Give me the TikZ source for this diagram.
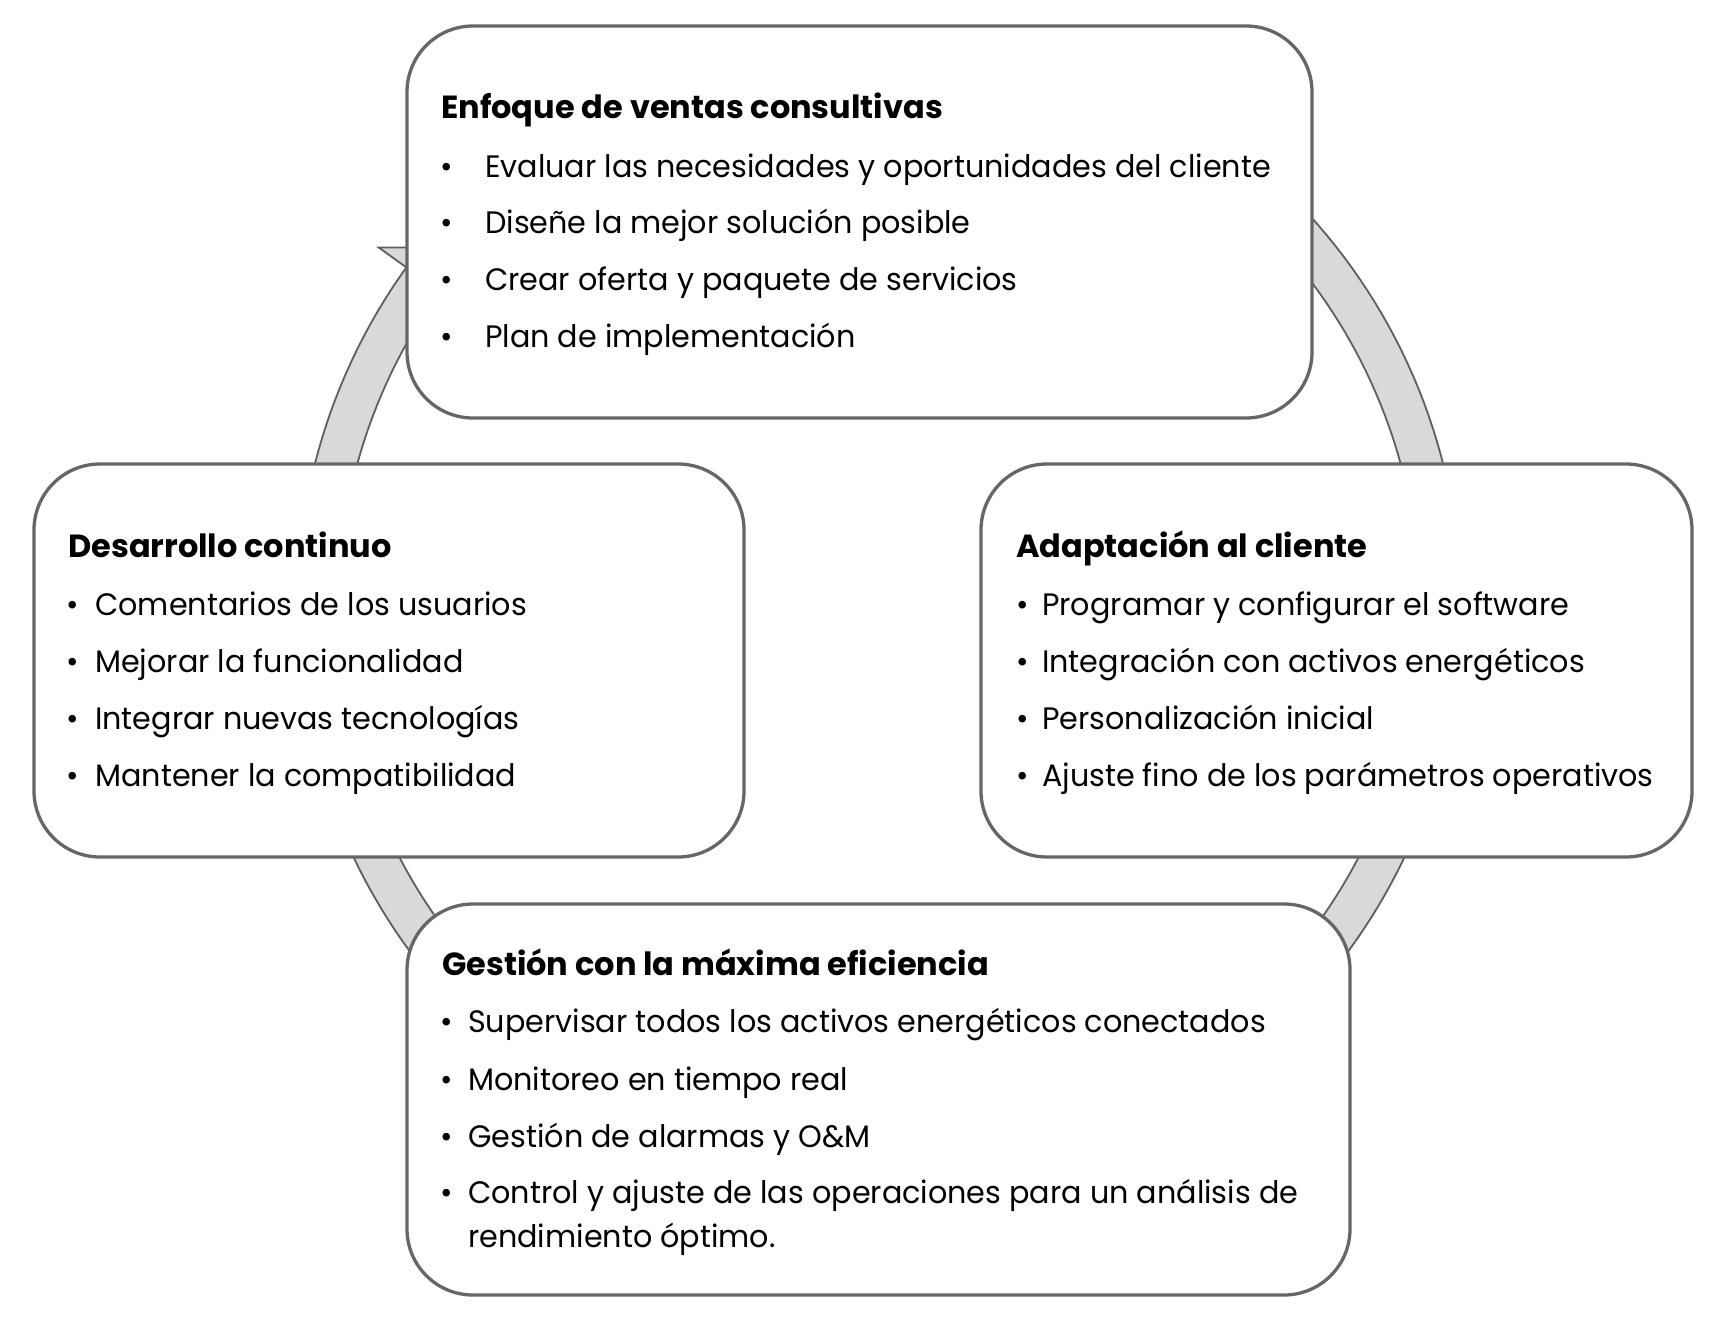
\documentclass[tikz,border=0pt]{standalone}
\usepackage{fontspec}
\setmainfont{Poppins}[FakeStretch=0.975]
\newfontfamily\headfont{Poppins}[FakeStretch=1.0]
\definecolor{boxline}{HTML}{666666}
\definecolor{ringfill}{HTML}{D9D9D9}
\definecolor{ringline}{HTML}{5F5F5F}
\tikzset{
 card/.style={draw=boxline, line width=3.3pt, fill=white, rounded corners=66pt, inner sep=0pt},
 ttl/.style={anchor=base west, inner sep=0pt, font=\headfont\fontsize{32}{38}\selectfont\bfseries},
 itm/.style={anchor=base west, inner sep=0pt, font=\fontsize{31}{36}\selectfont},
 bul/.style={anchor=base, inner sep=0pt, font=\fontsize{31}{36}\selectfont},
 ring/.style={fill=ringfill, draw=ringline, line width=1.8pt, line join=miter},
}
\newcommand\myblockarc[2]{%
 \pgfmathsetmacro\arcbase{#2+4.1}
 \draw[ring] plot[domain=#1:\arcbase, samples=60] ({879+582*cos(\x)},{607-582*sin(\x)})
   -- ({879+616*cos(\arcbase)},{607-616*sin(\arcbase)})
   -- ({879+561.5*cos(#2)},{607-561.5*sin(#2)})
   -- ({879+507*cos(\arcbase)},{607-507*sin(\arcbase)})
   -- plot[domain=\arcbase:#1, samples=60] ({879+541*cos(\x)},{607-541*sin(\x)}) -- cycle;
}
\begin{document}
\begin{tikzpicture}[x=1pt,y=-1pt]
\useasboundingbox[fill=white] (0,0) rectangle (1728,1335);
% ring arrows (clockwise)
\myblockarc{185}{140.2}
\myblockarc{85}{0}
\myblockarc{-5}{-60}
\myblockarc{-120}{-175}
% boxes
\node[card, minimum width=905pt, minimum height=392pt] (top) at (859.5,222) {};
\node[card, minimum width=710pt, minimum height=393pt] (left) at (389,660.5) {};
\node[card, minimum width=711pt, minimum height=393pt] (right) at (1336.5,660.5) {};
\node[card, minimum width=943pt, minimum height=391pt] (bottom) at (878.5,1099.5) {};
% top text
\node[ttl] (th) at (441,118) {Enfoque de ventas consultivas};
\node[bul] (tb1) at (447,177) {•};
\node[bul] (tb2) at (447,233) {•};
\node[bul] (tb3) at (447,290) {•};
\node[bul] (tb4) at (447,347) {•};
\node[itm] (t1) at (485,177) {Evaluar las necesidades y oportunidades del cliente};
\node[itm] (t2) at (485,233) {Diseñe la mejor solución posible};
\node[itm] (t3) at (485,290) {Crear oferta y paquete de servicios};
\node[itm] (t4) at (485,347) {Plan de implementación};
% left text
\node[ttl] (lh) at (68,557) {Desarrollo continuo};
\node[bul] (lb1) at (73,615) {•};
\node[bul] (lb2) at (73,672) {•};
\node[bul] (lb3) at (73,729) {•};
\node[bul] (lb4) at (73,786) {•};
\node[itm] (l1) at (95,615) {Comentarios de los usuarios};
\node[itm] (l2) at (95,672) {Mejorar la funcionalidad};
\node[itm] (l3) at (95,729) {Integrar nuevas tecnologías};
\node[itm] (l4) at (95,786) {Mantener la compatibilidad};
% right text
\node[ttl] (rh) at (1016,557) {Adaptación al cliente};
\node[bul] (rb1) at (1023,615) {•};
\node[bul] (rb2) at (1023,672) {•};
\node[bul] (rb3) at (1023,729) {•};
\node[bul] (rb4) at (1023,786) {•};
\node[itm] (r1) at (1042,615) {Programar y configurar el software};
\node[itm] (r2) at (1042,672) {Integración con activos energéticos};
\node[itm] (r3) at (1042,729) {Personalización inicial};
\node[itm] (r4) at (1042,786) {Ajuste fino de los parámetros operativos};
% bottom text
\node[ttl] (bh) at (442,975) {Gestión con la máxima eficiencia};
\node[bul] (bb1) at (447,1032) {•};
\node[bul] (bb2) at (447,1090) {•};
\node[bul] (bb3) at (447,1147) {•};
\node[bul] (bb4) at (447,1203) {•};
\node[itm] (b1) at (468,1032) {Supervisar todos los activos energéticos conectados};
\node[itm] (b2) at (468,1090) {Monitoreo en tiempo real};
\node[itm] (b3) at (468,1147) {Gestión de alarmas y O\&M};
\node[itm] (b4) at (468,1203) {Control y ajuste de las operaciones para un análisis de};
\node[itm] (b5) at (468,1247) {rendimiento óptimo.};
\end{tikzpicture}
\end{document}
